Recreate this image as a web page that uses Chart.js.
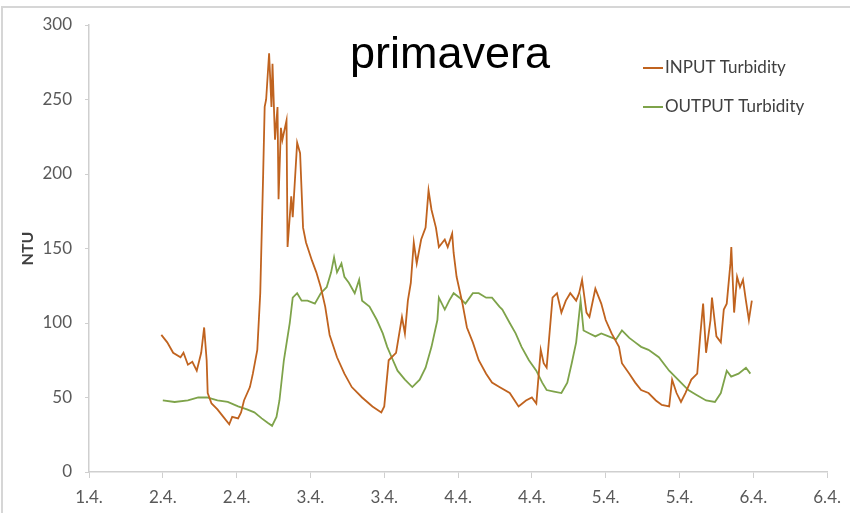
<!DOCTYPE html>
<html>
<head>
<meta charset="utf-8">
<script src="https://cdn.jsdelivr.net/npm/chart.js@4.4.1/dist/chart.umd.min.js"></script>
<style>
    html, body { margin: 0; padding: 0; background: #fff; }
    #frame {
        position: absolute; left: 1px; top: 6px; width: 860px; height: 520px;
        border-left: 2px solid #d6d6d6; border-top: 2px solid #d6d6d6;
    }
    #wrap { position: absolute; left: 0; top: 0; width: 850px; height: 513px; }
</style>
</head>
<body>
<div id="frame"></div>
<div id="wrap"><canvas id="chart"></canvas></div>
<script>
// x values are days counted from 1.4. 00:00 (tick every 12 hours)
const tickLabels = ['1.4.', '2.4.', '2.4.', '3.4.', '3.4.', '4.4.', '4.4.', '5.4.', '5.4.', '6.4.', '6.4.'];
const yTicks = [0, 50, 100, 150, 200, 250, 300];

const inputTimes = [0.99, 1.03, 1.07, 1.12, 1.14, 1.17, 1.20, 1.23, 1.26, 1.28, 1.297, 1.304, 1.33, 1.37, 1.41, 1.45, 1.47, 1.51, 1.53, 1.55,
    1.59, 1.61, 1.64, 1.66, 1.68, 1.69, 1.70, 1.72, 1.736, 1.743, 1.76, 1.777, 1.784, 1.80, 1.81, 1.838, 1.845, 1.87, 1.88, 1.91,
    1.93, 1.95, 1.97, 2.01, 2.04, 2.07, 2.10, 2.13, 2.18, 2.23, 2.28, 2.35, 2.42, 2.48, 2.50, 2.53, 2.58, 2.62, 2.64, 2.66,
    2.68, 2.70, 2.72, 2.75, 2.78, 2.80, 2.82, 2.85, 2.87, 2.91, 2.93, 2.96, 2.97, 2.99, 3.03, 3.06, 3.10, 3.14, 3.19, 3.23,
    3.28, 3.35, 3.41, 3.46, 3.50, 3.53, 3.56, 3.58, 3.60, 3.64, 3.67, 3.70, 3.73, 3.76, 3.80, 3.82, 3.84, 3.87, 3.89, 3.93,
    3.97, 4.00, 4.04, 4.09, 4.11, 4.16, 4.20, 4.24, 4.29, 4.34, 4.38, 4.43, 4.45, 4.48, 4.51, 4.54, 4.58, 4.62, 4.64, 4.66,
    4.68, 4.71, 4.72, 4.75, 4.78, 4.80, 4.82, 4.845, 4.851, 4.87, 4.89, 4.91, 4.93, 4.95, 4.97, 4.99];
const inputValues = [92, 87, 80, 77, 80, 72, 74, 68, 80, 97, 75, 53, 46, 42, 37, 32, 37, 36, 40, 48,
    57, 66, 82, 120, 201, 245, 250, 281, 245, 274, 223, 245, 183, 231, 223, 236, 151, 185, 171, 221,
    214, 164, 154, 142, 134, 124, 111, 92, 77, 66, 57, 50, 44, 40, 44, 75, 80, 104, 93, 115,
    127, 154, 140, 156, 164, 189, 176, 164, 151, 156, 151, 160, 147, 131, 113, 97, 87, 75, 66, 60,
    57, 53, 44, 48, 50, 46, 82, 73, 70, 117, 120, 107, 115, 120, 115, 120, 129, 107, 104, 123,
    113, 102, 93, 84, 73, 66, 60, 55, 53, 48, 45, 44, 62, 53, 47, 53, 62, 66, 91, 113,
    80, 102, 117, 91, 87, 109, 113, 140, 151, 107, 131, 124, 129, 115, 102, 115];

const outputTimes = [1.00, 1.08, 1.17, 1.24, 1.30, 1.37, 1.44, 1.51, 1.57, 1.62, 1.67, 1.71, 1.74, 1.77, 1.79, 1.82, 1.86, 1.88, 1.91, 1.94,
    1.98, 2.03, 2.07, 2.11, 2.14, 2.16, 2.18, 2.21, 2.23, 2.26, 2.30, 2.33, 2.35, 2.40, 2.45, 2.49, 2.52, 2.55, 2.59, 2.64,
    2.69, 2.74, 2.78, 2.82, 2.86, 2.87, 2.91, 2.94, 2.97, 3.01, 3.05, 3.10, 3.14, 3.19, 3.23, 3.28, 3.30, 3.35, 3.39, 3.43,
    3.48, 3.53, 3.57, 3.60, 3.65, 3.70, 3.74, 3.77, 3.80, 3.83, 3.85, 3.89, 3.93, 3.97, 4.02, 4.07, 4.11, 4.16, 4.20, 4.24,
    4.29, 4.36, 4.43, 4.47, 4.51, 4.56, 4.61, 4.68, 4.74, 4.78, 4.82, 4.85, 4.90, 4.95, 4.98];
const outputValues = [48, 47, 48, 50, 50, 48, 47, 44, 42, 40, 36, 33, 31, 37, 48, 75, 100, 117, 120, 115,
    115, 113, 120, 124, 134, 144, 134, 140, 131, 127, 120, 129, 115, 111, 102, 93, 84, 77, 68, 62,
    57, 62, 70, 84, 102, 117, 109, 115, 120, 117, 113, 120, 120, 117, 117, 111, 109, 100, 93, 84,
    75, 68, 60, 55, 54, 53, 60, 73, 87, 115, 95, 93, 91, 93, 91, 89, 95, 90, 87, 84,
    82, 77, 68, 64, 60, 55, 52, 48, 47, 53, 68, 64, 66, 70, 66];

const INPUT_COLOR = '#c0631f';
const OUTPUT_COLOR = '#7ea34a';
const TEXT_COLOR = '#595959';
const AXIS_COLOR = '#cfcfcf';

function toPoints(times, values) {
    return times.map((t, i) => ({ x: t, y: values[i] }));
}

// legend drawn inside the plot area, top right
const insideLegend = {
    id: 'insideLegend',
    afterDraw(chart, args, opts) {
        const ctx = chart.ctx;
        ctx.save();
        ctx.font = opts.font;
        ctx.textBaseline = 'middle';
        chart.data.datasets.forEach((ds, i) => {
            const y = opts.y + i * opts.gap;
            ctx.strokeStyle = ds.borderColor;
            ctx.lineWidth = 2;
            ctx.beginPath();
            ctx.moveTo(opts.x, y);
            ctx.lineTo(opts.x + opts.swatch, y);
            ctx.stroke();
            ctx.fillStyle = '#404040';
            ctx.fillText(ds.label, opts.x + opts.swatch + 2, y);
        });
        ctx.restore();
    }
};

const chartTitle = {
    id: 'chartTitle',
    afterDraw(chart, args, opts) {
        const ctx = chart.ctx;
        ctx.save();
        ctx.font = opts.font;
        ctx.fillStyle = '#000';
        ctx.textAlign = 'center';
        ctx.textBaseline = 'alphabetic';
        ctx.fillText(opts.text, opts.x, opts.y);
        ctx.restore();
    }
};

new Chart(document.getElementById('chart'), {
    type: 'line',
    data: {
        datasets: [{
            label: 'INPUT Turbidity',
            data: toPoints(inputTimes, inputValues),
            borderColor: INPUT_COLOR,
            borderWidth: 1.8,
            pointRadius: 0,
            tension: 0
        }, {
            label: 'OUTPUT Turbidity',
            data: toPoints(outputTimes, outputValues),
            borderColor: OUTPUT_COLOR,
            borderWidth: 1.8,
            pointRadius: 0,
            tension: 0
        }]
    },
    options: {
        responsive: true,
        maintainAspectRatio: false,
        animation: false,
        layout: { padding: { top: 25, right: 21, bottom: 0, left: 0 } },
        plugins: {
            legend: { display: false },
            tooltip: { enabled: false },
            insideLegend: { x: 643, y: 68, gap: 39, swatch: 20, font: '17px Lato' },
            chartTitle: { text: 'primavera', x: 450, y: 68, font: '45px "Liberation Sans"' }
        },
        scales: {
            x: {
                type: 'linear',
                min: 0.5,
                max: 5.5,
                afterFit: s => { s.height = 41; },
                afterBuildTicks: s => { s.ticks = tickLabels.map((_, i) => ({ value: 0.5 + i * 0.5 })); },
                ticks: {
                    autoSkip: false,
                    maxRotation: 0,
                    padding: 9,
                    color: TEXT_COLOR,
                    font: { family: 'Lato', size: 17 },
                    callback: (v, i) => tickLabels[i]
                },
                grid: { drawOnChartArea: false, color: AXIS_COLOR, tickLength: 6 },
                border: { color: AXIS_COLOR, width: 1.5 }
            },
            y: {
                min: 0,
                max: 300,
                afterFit: s => { s.width = 89; },
                afterBuildTicks: s => { s.ticks = yTicks.map(v => ({ value: v })); },
                ticks: {
                    padding: 13,
                    color: TEXT_COLOR,
                    font: { family: 'Lato', size: 17 }
                },
                grid: { drawOnChartArea: false, color: AXIS_COLOR, tickLength: 4 },
                border: { color: AXIS_COLOR, width: 1.5 },
                title: {
                    display: true,
                    text: 'NTU',
                    color: '#404040',
                    font: { family: 'Lato', size: 16, weight: 'bold' },
                    padding: { top: 18, bottom: 0 }
                }
            }
        }
    },
    plugins: [insideLegend, chartTitle]
});
</script>
</body>
</html>
